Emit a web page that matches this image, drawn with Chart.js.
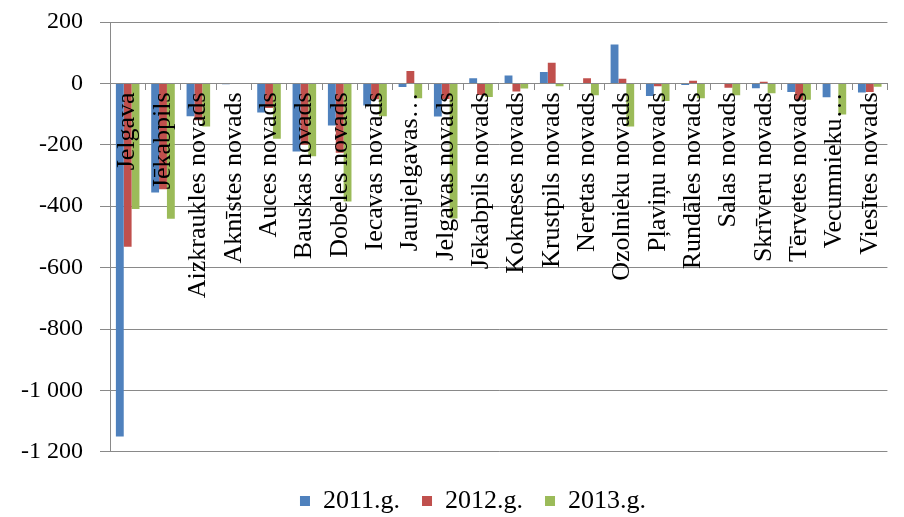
<!DOCTYPE html>
<html>
<head>
<meta charset="utf-8">
<script src="https://cdn.jsdelivr.net/npm/chart.js@4.4.1/dist/chart.umd.min.js"></script>
<style>
	html, body { margin: 0; padding: 0; background: #fff; }
</style>
</head>
<body>
<canvas id="chartCanvas" width="904" height="517"></canvas>
<script>
var regions = ['Jelgava', 'Jēkabpils', 'Aizkraukles novads', 'Aknīstes novads', 'Auces novads',
	'Bauskas novads', 'Dobeles novads', 'Iecavas novads', 'Jaunjelgavas…', 'Jelgavas novads',
	'Jēkabpils novads', 'Kokneses novads', 'Krustpils novads', 'Neretas novads', 'Ozolnieku novads',
	'Pļaviņu novads', 'Rundāles novads', 'Salas novads', 'Skrīveru novads', 'Tērvetes novads',
	'Vecumnieku…', 'Viesītes novads'];

var y2011 = [-1150, -355, -107, -3, -95, -222, -137, -72, -12, -108, 17, 26, 37, 0, 127, -41, -5, 0, -16, -28, -45, -30];
var y2012 = [-532, -345, -120, -2, -80, -200, -226, -52, 40, -51, -38, -26, 67, 17, 15, -9, 9, -14, 5, -55, 0, -28];
var y2013 = [-409, -441, -140, 0, -180, -237, -385, -107, -48, -440, -44, -17, -9, -39, -140, -57, -48, -39, -32, -53, -101, -11];

var seriesNames = ['2011.g.', '2012.g.', '2013.g.'];
var yTicks = { min: -1200, max: 200, step: 200 };

var serif = '"Liberation Serif", "Times New Roman", serif';
var gray = '#898989';

// "-1 200" style numbers
function fmt(v) {
	var s = String(Math.abs(v)).replace(/\B(?=(\d{3})+(?!\d))/g, ' ');
	return (v < 0 ? '-' : '') + s;
}

// legend sits a bit right of the page centre in the original
var legendShift = {
	id: 'legendShift',
	afterLayout: function(chart) {
		chart.legend.left += 22;
		chart.legend.right += 22;
	}
};

var chartdata = {
	labels: regions,
	datasets: [
		{ label: seriesNames[0], data: y2011, backgroundColor: '#4F81BD' },
		{ label: seriesNames[1], data: y2012, backgroundColor: '#C0504D' },
		{ label: seriesNames[2], data: y2013, backgroundColor: '#9BBB59' }
	]
};

var ctx = document.getElementById('chartCanvas');
var chart = new Chart(ctx, {
	type: 'bar',
	data: chartdata,
	plugins: [legendShift],
	options: {
		responsive: false,
		animation: false,
		datasets: {
			bar: { categoryPercentage: 0.667, barPercentage: 1.0 }
		},
		layout: {
			padding: { left: 0, right: 2, top: 22, bottom: -7 }
		},
		scales: {
			x: {
				position: { y: 0 },
				grid: {
					drawOnChartArea: false,
					drawTicks: true,
					tickLength: 6,
					color: gray,
					tickColor: gray
				},
				border: { display: true, color: gray },
				ticks: {
					autoSkip: false,
					maxRotation: 90,
					minRotation: 90,
					padding: 3,
					color: '#000',
					font: { family: serif, size: 26 },
					z: 1
				}
			},
			y: {
				min: yTicks.min,
				max: yTicks.max,
				afterFit: function(s) {
					s.width = 110;
					s.paddingTop = 14;
					s.paddingBottom = 14;
				},
				grid: {
					color: gray,
					tickColor: gray,
					tickLength: 10
				},
				border: { display: true, color: gray },
				ticks: {
					stepSize: yTicks.step,
					padding: 17,
					color: '#000',
					font: { family: serif, size: 24 },
					callback: function(v) { return fmt(v); }
				}
			}
		},
		plugins: {
			tooltip: { enabled: false },
			legend: {
				position: 'bottom',
				title: {
					display: true,
					text: '',
					font: { size: 1 },
					padding: { top: 0, bottom: 13 }
				},
				labels: {
					boxWidth: 10,
					boxHeight: 10,
					padding: 22,
					color: '#000',
					font: { family: serif, size: 26 }
				}
			}
		}
	}
});
</script>
</body>
</html>
